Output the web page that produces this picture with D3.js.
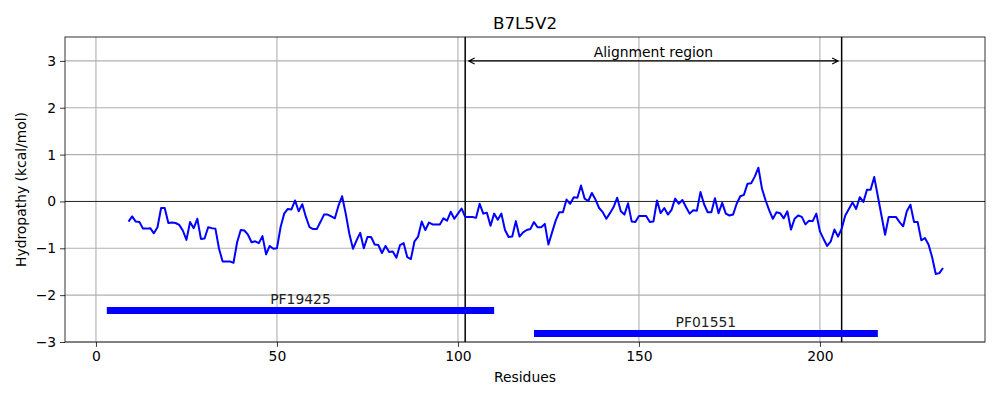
<!DOCTYPE html>
<html>
<head>
<meta charset="utf-8">
<script src="https://cdn.jsdelivr.net/npm/d3@7"></script>
<style>
  body { margin: 0; background: #fff; }
  svg { font-family: "DejaVu Sans", sans-serif; }
</style>
</head>
<body>
<svg width="1000" height="400"></svg>
<script>
// hydropathy profile, one value per residue starting at firstResidue
const firstResidue = 9;
const hydropathy = [
  -0.43, -0.32, -0.43, -0.44, -0.58, -0.58, -0.57, -0.68, -0.55, -0.14,
  -0.14, -0.46, -0.45, -0.46, -0.50, -0.62, -0.82, -0.44, -0.57, -0.37,
  -0.80, -0.79, -0.55, -0.57, -0.58, -1.01, -1.28, -1.28, -1.28, -1.31,
  -0.87, -0.61, -0.62, -0.71, -0.87, -0.85, -0.89, -0.74, -1.13, -0.95,
  -1.01, -1.00, -0.55, -0.26, -0.16, -0.17, 0.02, -0.21, -0.06, -0.33,
  -0.55, -0.59, -0.59, -0.44, -0.28, -0.28, -0.32, -0.36, -0.09, 0.11,
  -0.26, -0.69, -1.01, -0.83, -0.67, -1.00, -0.76, -0.76, -0.92, -0.93,
  -1.10, -0.95, -1.08, -1.07, -1.20, -0.93, -0.89, -1.19, -1.23, -0.85,
  -0.75, -0.43, -0.61, -0.45, -0.49, -0.49, -0.49, -0.36, -0.41, -0.22,
  -0.37, -0.26, -0.15, -0.33, -0.33, -0.33, -0.35, -0.05, -0.26, -0.24,
  -0.52, -0.26, -0.39, -0.26, -0.61, -0.76, -0.75, -0.42, -0.75, -0.66,
  -0.61, -0.59, -0.44, -0.55, -0.55, -0.48, -0.92, -0.66, -0.41, -0.23,
  -0.23, 0.04, -0.05, 0.09, 0.08, 0.34, 0.06, 0.01, 0.18, 0.04,
  -0.14, -0.23, -0.37, -0.25, -0.12, 0.08, -0.21, -0.28, -0.04, -0.43,
  -0.44, -0.31, -0.31, -0.31, -0.44, -0.43, 0.02, -0.25, -0.14, -0.28,
  -0.18, 0.06, -0.05, 0.03, -0.12, -0.26, -0.19, -0.20, 0.20, -0.06,
  -0.23, -0.23, 0.07, -0.25, -0.03, -0.26, -0.30, -0.28, -0.05, 0.11,
  0.14, 0.38, 0.39, 0.53, 0.72, 0.27, 0.02, -0.19, -0.37, -0.23,
  -0.25, -0.36, -0.21, -0.60, -0.37, -0.30, -0.33, -0.49, -0.41, -0.42,
  -0.26, -0.64, -0.80, -0.95, -0.85, -0.60, -0.75, -0.58, -0.30, -0.16,
  -0.02, -0.16, 0.09, -0.01, 0.25, 0.25, 0.52, 0.11, -0.30, -0.71,
  -0.33, -0.33, -0.33, -0.44, -0.53, -0.21, -0.07, -0.44, -0.44, -0.83,
  -0.78, -0.92, -1.19, -1.55, -1.53, -1.42
];

// Pfam domains
const domainNames = ['PF19425', 'PF01551'];
const domainStart = [3, 121];
const domainEnd = [110, 216];
const domainLevel = [-2.33, -2.82];

// alignment region
const alignStart = 102;
const alignEnd = 206;
const alignLevel = 3;

const xTicks = [0, 50, 100, 150, 200];
const yTicks = [-3, -2, -1, 0, 1, 2, 3];

let margin = { top: 37, right: 15, bottom: 58, left: 65 };
let width = 1000 - margin.left - margin.right;
let height = 400 - margin.top - margin.bottom;

let svg = d3.select('svg');
let g = svg.append('g').attr('transform', 'translate(' + margin.left + ',' + margin.top + ')');

let x = d3.scaleLinear().domain([-8.55, 245.6]).range([0, width]);
let y = d3.scaleLinear().domain([-3, 3.51]).range([height, 0]);

let data = hydropathy.map((v, i) => ({ res: firstResidue + i, value: v }));

// grid
g.append('g')
  .selectAll('line')
  .data(xTicks)
  .join('line')
  .attr('x1', (d) => x(d)).attr('x2', (d) => x(d))
  .attr('y1', 0).attr('y2', height)
  .attr('stroke', '#b0b0b0').attr('stroke-width', 1.1);
g.append('g')
  .selectAll('line')
  .data(yTicks)
  .join('line')
  .attr('x1', 0).attr('x2', width)
  .attr('y1', (d) => y(d)).attr('y2', (d) => y(d))
  .attr('stroke', '#b0b0b0').attr('stroke-width', 1.1);

// zero line
g.append('line')
  .attr('x1', 0).attr('x2', width)
  .attr('y1', y(0)).attr('y2', y(0))
  .attr('stroke', '#000').attr('stroke-width', 0.8);

// alignment region bounds
g.selectAll('.bound')
  .data([alignStart, alignEnd])
  .join('line')
  .attr('class', 'bound')
  .attr('x1', (d) => x(d)).attr('x2', (d) => x(d))
  .attr('y1', 0).attr('y2', height)
  .attr('stroke', '#000').attr('stroke-width', 1.5);

// double arrow
let ax1 = x(alignStart) + 3.5, ax2 = x(alignEnd) - 3.5, ay = y(alignLevel);
g.append('path')
  .attr('d', 'M' + ax1 + ',' + ay + 'H' + ax2 +
    'M' + (ax1 + 6) + ',' + (ay - 3) + 'L' + ax1 + ',' + ay + 'L' + (ax1 + 6) + ',' + (ay + 3) +
    'M' + (ax2 - 6) + ',' + (ay - 3) + 'L' + ax2 + ',' + ay + 'L' + (ax2 - 6) + ',' + (ay + 3))
  .attr('fill', 'none').attr('stroke', '#000').attr('stroke-width', 1.1);
g.append('text')
  .attr('x', x((alignStart + alignEnd) / 2))
  .attr('y', ay - 3.5)
  .attr('text-anchor', 'middle')
  .attr('font-size', '13.9px')
  .text('Alignment region');

// domains
domainNames.forEach((name, i) => {
  g.append('line')
    .attr('x1', x(domainStart[i])).attr('x2', x(domainEnd[i]))
    .attr('y1', y(domainLevel[i])).attr('y2', y(domainLevel[i]))
    .attr('stroke', 'blue').attr('stroke-width', 7);
  g.append('text')
    .attr('x', x((domainStart[i] + domainEnd[i]) / 2))
    .attr('y', y(domainLevel[i]) - 6.5)
    .attr('text-anchor', 'middle')
    .attr('font-size', '13.9px')
    .attr('fill', '#222')
    .text(name);
});

// hydropathy line
let line = d3.line()
  .x((d) => x(d.res))
  .y((d) => y(d.value));
g.append('path')
  .datum(data)
  .attr('fill', 'none')
  .attr('stroke', 'blue')
  .attr('stroke-width', 2)
  .attr('stroke-linejoin', 'round')
  .attr('d', line);

// axes
let fmt = (d) => (d < 0 ? '\u2212' + Math.abs(d) : '' + d);
let xAxis = g.append('g')
  .attr('transform', 'translate(0,' + height + ')')
  .call(d3.axisBottom(x).tickValues(xTicks).tickFormat(fmt).tickSize(4.9).tickPadding(4));
let yAxis = g.append('g')
  .call(d3.axisLeft(y).tickValues(yTicks).tickFormat(fmt).tickSize(4.9).tickPadding(4));
[xAxis, yAxis].forEach((a) => {
  a.select('.domain').remove();
  a.selectAll('text').attr('font-size', '13.9px').attr('font-family', '"DejaVu Sans", sans-serif').attr('fill', '#000');
  a.selectAll('line').attr('stroke-width', 0.8);
});

// frame
g.append('rect')
  .attr('width', width).attr('height', height)
  .attr('fill', 'none').attr('stroke', '#000').attr('stroke-width', 0.8);

// labels
svg.append('text')
  .attr('x', margin.left + width / 2).attr('y', 29)
  .attr('text-anchor', 'middle').attr('font-size', '16.7px')
  .text('B7L5V2');
svg.append('text')
  .attr('x', margin.left + width / 2).attr('y', 382)
  .attr('text-anchor', 'middle').attr('font-size', '13.9px')
  .text('Residues');
svg.append('text')
  .attr('transform', 'translate(26,' + (margin.top + height / 2) + ') rotate(-90)')
  .attr('text-anchor', 'middle').attr('font-size', '13.9px')
  .text('Hydropathy (kcal/mol)');
</script>
</body>
</html>
